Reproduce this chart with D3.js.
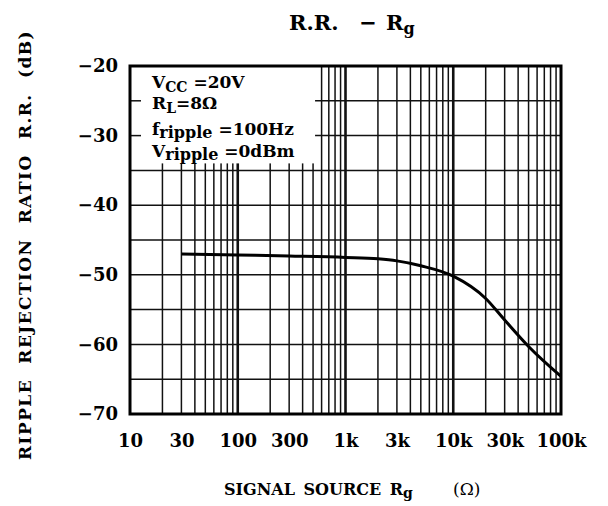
<!DOCTYPE html>
<html>
<head>
<meta charset="utf-8">
<script src="https://cdn.jsdelivr.net/npm/d3@7"></script>
<style>
	body { margin: 0; background: #fff; }
	text { font-family: "DejaVu Serif", "Liberation Serif", serif; font-weight: bold; fill: #000; }
</style>
</head>
<body>
<svg id="chart" width="608" height="506"></svg>
<script>
// values
var sourceOhms = [30, 100, 300, 1000, 2000, 3000, 5000, 10000, 20000, 30000, 50000, 100000];
var rejectionDb = [-47.0, -47.15, -47.3, -47.5, -47.7, -48.0, -48.7, -50.2, -53.4, -56.5, -60.3, -64.6];

var xTickValues = [10, 30, 100, 300, 1000, 3000, 10000, 30000, 100000];
var xTickLabels = ['10', '30', '100', '300', '1k', '3k', '10k', '30k', '100k'];
var yTickValues = [-20, -30, -40, -50, -60, -70];
var yGridValues = [-65, -60, -55, -50, -45, -40, -35, -30, -25];

var conditionMain = ['V', 'R', 'f', 'V'];
var conditionSub = ['CC', 'L', 'ripple', 'ripple'];
var conditionValue = [' =20V', '=8\u03a9', ' =100Hz', ' =0dBm'];

var svg = d3.select('#chart');

var x = d3.scaleLog().domain([10, 100000]).range([130, 561]);
var y = d3.scaleLinear().domain([-70, -20]).range([414, 66]);

// grid
var grid = svg.append('g');
var xGrid = x.ticks().filter(function(d) { return d > 10 && d < 100000; });
grid.selectAll('line.v').data(xGrid).enter().append('line')
	.attr('class', 'v')
	.attr('x1', function(d) { return x(d); })
	.attr('x2', function(d) { return x(d); })
	.attr('y1', y(-20))
	.attr('y2', y(-70))
	.attr('stroke', '#111')
	.attr('stroke-width', function(d) {
		var l = Math.log10(d);
		return Math.abs(l - Math.round(l)) < 1e-9 ? 2.6 : 1.5;
	});

grid.selectAll('line.h').data(yGridValues).enter().append('line')
	.attr('class', 'h')
	.attr('x1', x(10))
	.attr('x2', x(100000))
	.attr('y1', function(d) { return y(d); })
	.attr('y2', function(d) { return y(d); })
	.attr('stroke', '#111')
	.attr('stroke-width', 1.5);

// white box behind the test conditions
svg.append('rect')
	.attr('x', x(10))
	.attr('y', y(-20))
	.attr('width', x(500) + 2 - x(10))
	.attr('height', y(-35) - 7 - y(-20))
	.attr('fill', '#fff');

svg.selectAll('line.tick-in').data([-25, -30]).enter().append('line')
	.attr('class', 'tick-in')
	.attr('x1', x(10))
	.attr('x2', x(10) + 11)
	.attr('y1', function(d) { return y(d); })
	.attr('y2', function(d) { return y(d); })
	.attr('stroke', '#111')
	.attr('stroke-width', 1.5);

var cond = svg.append('g');
var baselines = [88, 109, 135, 157];
conditionMain.forEach(function(m, i) {
	var t = cond.append('text')
		.attr('x', 152)
		.attr('y', baselines[i])
		.style('font-size', '17px')
		.attr('xml:space', 'preserve');
	t.append('tspan').text(m);
	var isRipple = conditionSub[i] === 'ripple';
	t.append('tspan')
		.attr('dy', isRipple ? 3 : 4)
		.style('font-size', isRipple ? '16px' : '14px')
		.text(conditionSub[i]);
	t.append('tspan')
		.attr('dy', isRipple ? -3 : -4)
		.text(conditionValue[i]);
});

// curve
var line = d3.line()
	.x(function(d, i) { return x(sourceOhms[i]); })
	.y(function(d) { return y(d); })
	.curve(d3.curveMonotoneX);

svg.append('path')
	.datum(rejectionDb)
	.attr('d', line)
	.attr('fill', 'none')
	.attr('stroke', '#000')
	.attr('stroke-width', 3);

// frame
svg.append('rect')
	.attr('x', x(10))
	.attr('y', y(-20))
	.attr('width', x(100000) - x(10))
	.attr('height', y(-70) - y(-20))
	.attr('fill', 'none')
	.attr('stroke', '#000')
	.attr('stroke-width', 3);

// axes
var xAxis = d3.axisBottom(x)
	.tickValues(xTickValues)
	.tickFormat(function(d, i) { return xTickLabels[i]; })
	.tickSize(0)
	.tickPadding(20);

svg.append('g')
	.attr('transform', 'translate(0,' + y(-70) + ')')
	.call(xAxis)
	.call(function(g) { g.select('.domain').remove(); })
	.selectAll('text')
	.style('font-size', '18px')
	.style('font-family', '"DejaVu Serif", serif');

var yAxis = d3.axisLeft(y)
	.tickValues(yTickValues)
	.tickFormat(function(d) { return '\u2212' + Math.abs(d); })
	.tickSize(0)
	.tickPadding(12);

svg.append('g')
	.attr('transform', 'translate(' + x(10) + ',0)')
	.call(yAxis)
	.call(function(g) { g.select('.domain').remove(); })
	.selectAll('text')
	.style('font-size', '18px')
	.style('font-family', '"DejaVu Serif", serif');

// titles
svg.append('text').attr('x', 289).attr('y', 30).style('font-size', '21px').text('R.R.');
svg.append('text').attr('x', 368).attr('y', 30).attr('text-anchor', 'middle').style('font-size', '21px').text('\u2212');
var rg = svg.append('text').attr('x', 386).attr('y', 30).style('font-size', '21px');
rg.append('tspan').text('R');
rg.append('tspan').attr('dy', 4).style('font-size', '16px').text('g');

var xt = svg.append('text')
	.attr('x', 224)
	.attr('y', 495)
	.style('font-size', '16px')
	.style('word-spacing', '3px');
xt.append('tspan').text('SIGNAL SOURCE R');
xt.append('tspan').attr('dy', 3).style('font-size', '14px').text('g');
svg.append('text')
	.attr('x', 453)
	.attr('y', 495)
	.style('font-size', '17px')
	.style('font-weight', 'normal')
	.text('(\u03a9)');

svg.append('text')
	.attr('transform', 'translate(31,245) rotate(-90)')
	.attr('text-anchor', 'middle')
	.style('font-size', '17px')
	.style('letter-spacing', '1.4px')
	.style('word-spacing', '8px')
	.text('RIPPLE REJECTION RATIO R.R. (dB)');
</script>
</body>
</html>
